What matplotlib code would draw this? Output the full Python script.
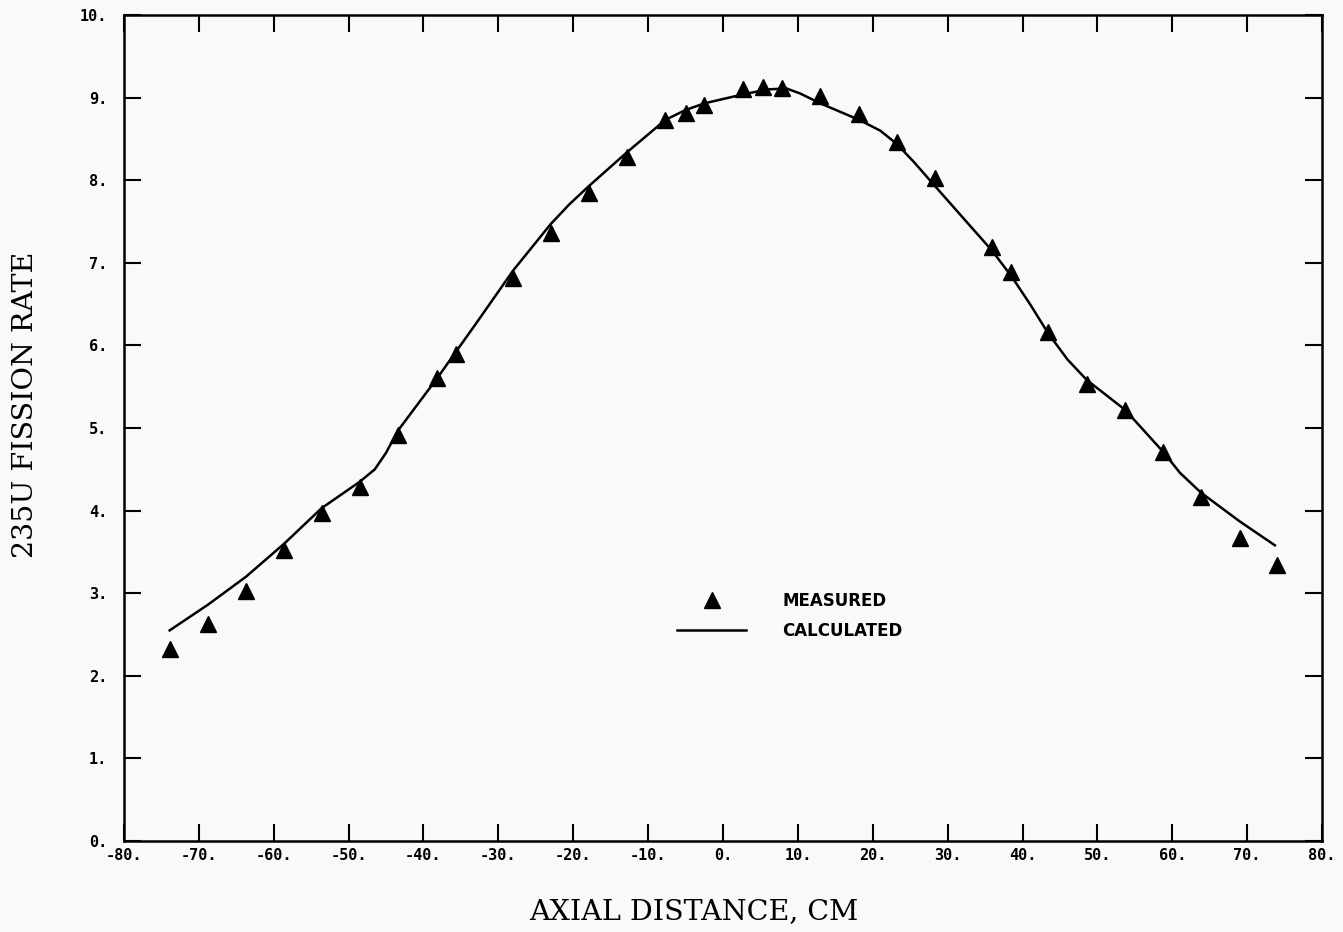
import matplotlib.pyplot as plt

# --- data ---
meas_x = [-73.8, -68.8, -63.7, -58.6, -53.6, -48.5, -43.4, -38.2, -35.7, -28.0,
          -23.0, -17.9, -12.8, -7.7, -4.9, -2.5, 2.7, 5.3, 7.9, 13.0,
          18.2, 23.2, 28.3, 35.9, 38.5, 43.4, 48.6, 53.7, 58.8, 63.8,
          69.0, 74.0]
meas_y = [2.33, 2.63, 3.03, 3.52, 3.97, 4.29, 4.92, 5.60, 5.90, 6.82,
          7.36, 7.85, 8.28, 8.73, 8.81, 8.91, 9.10, 9.13, 9.12, 9.02,
          8.80, 8.46, 8.03, 7.19, 6.89, 6.16, 5.53, 5.22, 4.71, 4.16,
          3.67, 3.34]

calc_x = [-73.9, -68.8, -63.7, -58.6, -53.6, -48.5, -46.5, -45.0, -43.4, -38.2,
          -33.1, -28.0, -23.0, -20.5, -17.9, -12.8, -7.7, -5.0, -2.5, 2.7,
          6.0, 8.5, 10.3, 13.0, 18.2, 21.0, 23.2, 25.5, 28.3, 35.9,
          38.5, 41.0, 43.4, 46.0, 48.6, 53.7, 58.8, 61.0, 63.8, 69.0,
          73.7]
calc_y = [2.55, 2.86, 3.20, 3.60, 4.03, 4.35, 4.50, 4.70, 4.97, 5.60,
          6.25, 6.91, 7.47, 7.71, 7.93, 8.34, 8.73, 8.85, 8.93, 9.04,
          9.10, 9.11, 9.05, 8.93, 8.73, 8.60, 8.44, 8.22, 7.93, 7.15,
          6.84, 6.50, 6.15, 5.83, 5.58, 5.22, 4.71, 4.46, 4.22, 3.87,
          3.58]

xticks = list(range(-80, 81, 10))
xtick_labels = [f"{v}." for v in xticks]
yticks = list(range(0, 11))
ytick_labels = [f"{v}." for v in yticks]

bg = "#f9f9f9"
fig = plt.figure(figsize=(13.43, 9.32), dpi=100, facecolor=bg)
ax = fig.add_axes([0.0923, 0.0976, 0.8921, 0.8863], facecolor=bg)

ax.plot(calc_x, calc_y, color="black", linewidth=1.8, label="CALCULATED")
ax.plot(meas_x, meas_y, linestyle="none", marker="^", markersize=11,
        color="black", label="MEASURED")

ax.set_xlim(-80, 80)
ax.set_ylim(0, 10)
ax.set_xticks(xticks)
ax.set_xticklabels(xtick_labels)
ax.set_yticks(yticks)
ax.set_yticklabels(ytick_labels)

for lab in ax.get_xticklabels() + ax.get_yticklabels():
    lab.set_fontfamily("DejaVu Sans Mono")
    lab.set_fontweight("bold")
    lab.set_fontsize(11)

ax.tick_params(axis="both", direction="in", length=12, width=1.5,
               top=True, right=True)
ax.tick_params(axis="x", pad=5)
ax.tick_params(axis="y", pad=12)
for sp in ax.spines.values():
    sp.set_linewidth(1.8)

ax.set_xlabel("AXIAL DISTANCE, CM", fontfamily="DejaVu Serif", fontsize=20.5)
ax.set_ylabel("235U FISSION RATE", fontfamily="DejaVu Serif", fontsize=20.5)
ax.xaxis.set_label_coords(0.476, -0.069)
ax.yaxis.set_label_coords(-0.071, 0.528)

handles, labels = ax.get_legend_handles_labels()
leg = ax.legend(handles[::-1], labels[::-1], loc="upper left",
                bbox_to_anchor=(0.462, 0.302), frameon=False,
                borderpad=0, borderaxespad=0, handlelength=4.1,
                handletextpad=2.2, labelspacing=0.75,
                prop={"family": "DejaVu Sans", "weight": "bold", "size": 12})

fig.savefig("out.png", dpi=100, facecolor=bg)
